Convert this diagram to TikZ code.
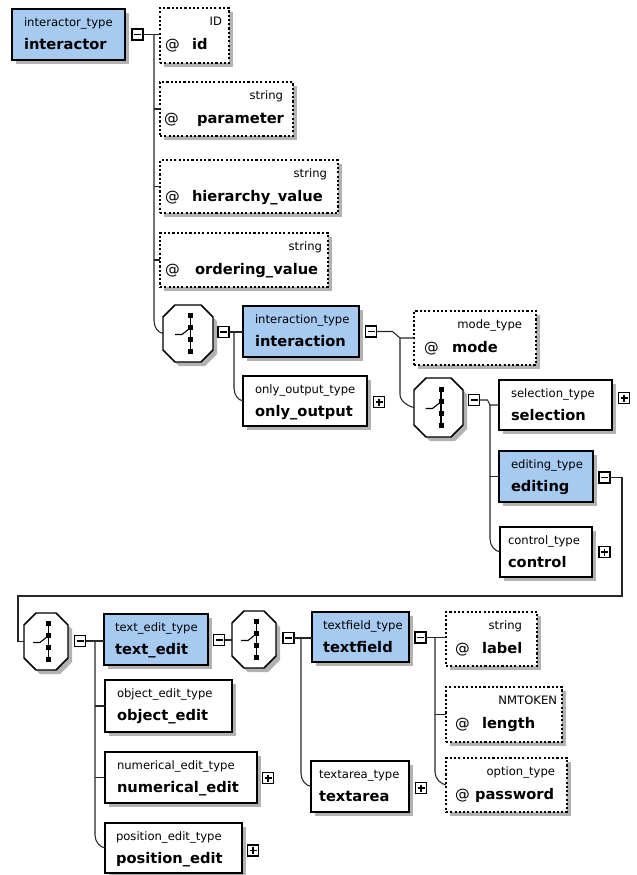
\documentclass[tikz,border=0pt]{standalone}
\usepackage{fontspec}
\setmainfont{DejaVu Sans}
\usetikzlibrary{calc,shadows}

\definecolor{xsdblue}{RGB}{166,202,240}
\definecolor{shadowgray}{RGB}{178,178,178}

\tikzset{
  x=0.75pt, y=-0.75pt,
  every node/.style={inner sep=0pt, outer sep=0pt},
  shad/.style={drop shadow={shadow xshift=3pt, shadow yshift=-3pt, fill=shadowgray, opacity=1}},
  elem/.style={rectangle, draw=black, line width=1.2pt, fill=white, shad},
  elemhl/.style={elem, fill=xsdblue},
  attr/.style={rectangle, draw=black, line width=1.1pt, dash pattern=on 1.6pt off 1.6pt, fill=white, shad},
  tsmall/.style={font=\fontsize{8.7}{10}\selectfont, anchor=base west},
  tbig/.style={font=\fontsize{11}{12}\selectfont\bfseries, anchor=base west},
  tat/.style={font=\fontsize{11}{12}\selectfont, anchor=base west},
  link/.style={draw=black!85, line width=0.8pt},
  tog/.style={rectangle, draw=black, line width=0.8pt, fill=white, minimum width=8.25pt, minimum height=8.25pt},
  octo/.style={line width=1.1pt, draw=black, fill=white},
}

% element box: name, style, x1, y1, x2, y2, text indent, type, element name
\newcommand\xelem[9]{%
  \node[#2, minimum width={(#5-#3)*0.75pt}, minimum height={(#6-#4)*0.75pt}, anchor=north west] (#1) at (#3,#4) {};
  \node[tsmall] (#1-type) at ($(#1.north west)+(#7,17)$) {#8};
  \node[tbig] (#1-name) at ($(#1.north west)+(#7,40)$) {#9};
}
% attribute box: name, x1, y1, x2, y2, right edge of type text, type
\newcommand\xattr[7]{%
  \node[attr, minimum width={(#4-#2)*0.75pt}, minimum height={(#5-#3)*0.75pt}, anchor=north west] (#1) at (#2,#3) {};
  \node[tsmall, anchor=base east] (#1-type) at (#6,#3+17) {#7};
}
% attribute name line: name, indent of @, indent of name, attribute name
\newcommand\xattrname[4]{%
  \node[tat] (#1-at) at ($(#1.north west)+(#2,41)$) {@};
  \node[tbig] (#1-name) at ($(#1.north west)+(#3,41)$) {#4};
}
% collapse / expand toggles
\newcommand\minusbox[3]{%
  \node[tog] (#1) at (#2,#3) {};
  \draw[line width=0.8pt] ($(#1.center)+(-3.5,0)$) -- ($(#1.center)+(3.5,0)$);
}
\newcommand\plusbox[3]{%
  \node[tog] (#1) at (#2,#3) {};
  \draw[line width=0.8pt] ($(#1.center)+(-3.5,0)$) -- ($(#1.center)+(3.5,0)$)
                          ($(#1.center)+(0,-3.5)$) -- ($(#1.center)+(0,3.5)$);
}
% octagon outline around a node, shifted by #2
\newcommand\octpath[3]{%
  \path[#3] ($(#1.north west)+(12+#2,#2)$) -- ($(#1.north east)+(-12+#2,#2)$)
    -- ($(#1.north east)+(#2,12+#2)$) -- ($(#1.south east)+(#2,-12+#2)$)
    -- ($(#1.south east)+(-12+#2,#2)$) -- ($(#1.south west)+(12+#2,#2)$)
    -- ($(#1.south west)+(#2,-12+#2)$) -- ($(#1.north west)+(#2,12+#2)$) -- cycle;
}
% choice compositor: name, x1, y1, x2, y2
\newcommand\xchoice[5]{%
  \node[minimum width={(#4-#2)*0.75pt}, minimum height={(#5-#3)*0.75pt}, anchor=north west] (#1) at (#2,#3) {};
  \octpath{#1}{4}{fill=shadowgray}
  \octpath{#1}{0}{octo}
  \draw[line width=0.8pt] ($(#1.center)+(2.5,-18)$) -- ($(#1.center)+(2.5,17)$);
  \foreach \dy in {-18,-6,6,17.5}
    \fill ($(#1.center)+(0,\dy-2.5)$) rectangle ++(5,5);
  \draw[line width=0.8pt] ($(#1.center)+(-13,1)$) -- ($(#1.center)+(-6,1)$) -- ($(#1.center)+(1.5,-5)$);
}
% bent connector from a vertical bus into the last child
\newcommand\lastlink[2]{%
  \draw[link] (#1) -- ($(#1 |- #2.west)+(0,-13)$)
    .. controls ($(#1 |- #2.west)+(0,-6)$) and ($(#2.west)+(-5,-1)$) .. (#2.west);
}

\begin{document}
\begin{tikzpicture}
\useasboundingbox (0,0) rectangle (636,875);

% ---------- interactor ----------
\xelem{interactor}{elemhl}{12}{9}{125}{60}{12}{interactor\_type}{interactor}
\minusbox{m0}{137.5}{34.5}

\xattr{id}{160}{8}{229}{63}{222}{ID}
\xattrname{id}{5}{32}{id}
\xattr{parameter}{160}{82}{293}{136}{283}{string}
\xattrname{parameter}{4}{37}{parameter}
\xattr{hierarchy}{160}{160}{338}{213}{327}{string}
\xattrname{hierarchy}{5}{32}{hierarchy\_value}
\xattr{ordering}{160}{233}{328}{287}{322}{string}
\xattrname{ordering}{5}{35}{ordering\_value}

\xchoice{c1}{163}{305}{213}{362}
\minusbox{m1}{223.5}{332}

% ---------- interaction / only_output ----------
\xelem{interaction}{elemhl}{243}{306}{359}{357}{12}{interaction\_type}{interaction}
\minusbox{m2}{371}{331.5}
\xelem{onlyoutput}{elem}{243}{376}{367}{426}{12}{only\_output\_type}{only\_output}
\plusbox{p1}{379}{402}

\xattr{mode}{414}{311}{536}{365}{522}{mode\_type}
\xattrname{mode}{10}{38}{mode}

\xchoice{c2}{414}{378}{463}{437}
\minusbox{m3}{474}{400}

% ---------- selection / editing / control ----------
\xelem{selection}{elem}{499}{380}{612}{430}{12}{selection\_type}{selection}
\plusbox{p2}{624}{398}
\xelem{editing}{elemhl}{499}{451}{593}{502}{12}{editing\_type}{editing}
\minusbox{m4}{604.5}{477.5}
\xelem{control}{elem}{500}{527}{592}{577}{8}{control\_type}{control}
\plusbox{p3}{604.5}{552}

% ---------- editing content ----------
\xchoice{c3}{24}{613}{68}{670}
\minusbox{m5}{80}{641}

\xelem{textedit}{elemhl}{104}{614}{208}{665}{11}{text\_edit\_type}{text\_edit}
\minusbox{m6}{219}{640}
\xelem{objectedit}{elem}{105}{680}{232}{732}{12}{object\_edit\_type}{object\_edit}
\xelem{numericaledit}{elem}{105}{752}{257}{803}{12}{numerical\_edit\_type}{numerical\_edit}
\plusbox{p4}{268}{778}
\xelem{positionedit}{elem}{105}{823}{242}{873}{11}{position\_edit\_type}{position\_edit}
\plusbox{p5}{253}{850.5}

\xchoice{c4}{232}{611}{276}{668}
\minusbox{m7}{288.5}{638}

\xelem{textfield}{elemhl}{312}{612}{409}{662}{11}{textfield\_type}{textfield}
\minusbox{m8}{420.5}{637.5}
\xelem{textarea}{elem}{311}{761}{409}{812}{8}{textarea\_type}{textarea}
\plusbox{p6}{421}{788}

\xattr{label}{446}{612}{537}{666}{522}{string}
\xattrname{label}{9}{36}{label}
\xattr{length}{446}{687}{562}{742}{557}{NMTOKEN}
\xattrname{length}{9}{36}{length}
\xattr{password}{446}{758}{567}{812}{555}{option\_type}
\xattrname{password}{9}{29}{password}

% ---------- connectors ----------
% interactor children
\coordinate (bus1) at ($(m0.east)+(11,0)$);
\draw[link] (m0.east) -- (m0.east -| id.west);
\draw[link] (bus1 |- parameter.west) -- (parameter.west);
\draw[link] (bus1 |- hierarchy.west) -- (hierarchy.west);
\draw[link] (bus1 |- ordering.west) -- (ordering.west);
\lastlink{bus1}{c1}

% choice under interactor
\coordinate (bus2) at ($(m1.east)+(5,0)$);
\draw[link] (m1.east) -- (m1.east -| interaction.west);
\lastlink{bus2}{onlyoutput}

% interaction children
\coordinate (bus3) at ($(mode.west)+(-14,0)$);
\draw[link] (m2.east) -- ($(m2.east)+(16,0)$) -- (bus3) -- (mode.west);
\lastlink{bus3}{c2}

% choice under interaction
\coordinate (bus4) at ($(selection.west)+(-9,0)$);
\draw[link] (m3.east) -- ($(m3.east)+(8,0)$) -- (bus4) -- (selection.west);
\draw[link] (bus4 |- editing.west) -- (editing.west);
\lastlink{bus4}{control}

% editing wraps round to its content
\coordinate (wrapR) at ($(m4.east)+(12,0)$);
\coordinate (wrapL) at ($(c3.west)+(-6,-45.5)$);
\draw[link] (m4.east) -- (wrapR) -- (wrapR |- wrapL) -- (wrapL) -- (wrapL |- c3.west) -- (c3.west);

% choice under editing
\coordinate (bus5) at ($(m5.east)+(9.5,0)$);
\draw[link] (m5.east) -- (m5.east -| textedit.west);
\draw[link] (bus5 |- objectedit.west) -- (objectedit.west);
\draw[link] (bus5 |- numericaledit.west) -- (numericaledit.west);
\lastlink{bus5}{positionedit}

% text_edit content
\draw[link] (m6.east) -- (m6.east -| c4.west);
\coordinate (bus6) at ($(m7.east)+(7,0)$);
\draw[link] (m7.east) -- (m7.east -| textfield.west);
\lastlink{bus6}{textarea}

% textfield attributes
\coordinate (bus7) at ($(m8.east)+(9,0)$);
\draw[link] (m8.east) -- (m8.east -| label.west);
\draw[link] (bus7 |- length.west) -- (length.west);
\lastlink{bus7}{password}
\end{tikzpicture}
\end{document}
